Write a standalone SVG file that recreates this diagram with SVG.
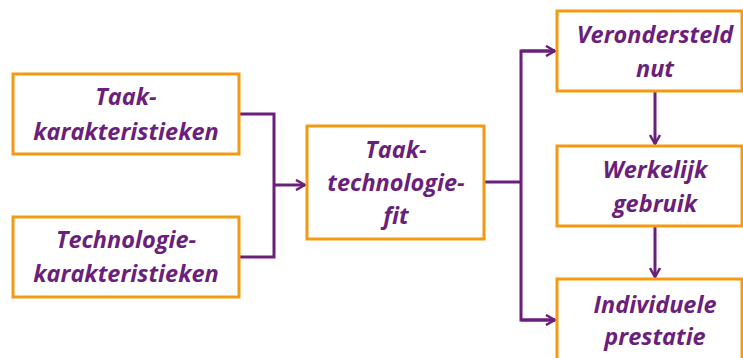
<svg xmlns="http://www.w3.org/2000/svg" width="743" height="358" viewBox="0 0 743 358">
<style>
.box{fill:#fff;stroke:#F39A12;stroke-width:3}
.t{font-family:"Open Sans",sans-serif;font-weight:bold;font-style:italic;font-size:23.5px;fill:#6B1F7C;text-anchor:middle}
.c{fill:none;stroke:#6B1F7C;stroke-width:3}
</style>
<defs>
<marker id="a" viewBox="0 0 12 12" refX="11" refY="6" markerWidth="12" markerHeight="12" markerUnits="userSpaceOnUse" orient="auto">
<path d="M2,1 L11,6 L2,11" fill="none" stroke="#6B1F7C" stroke-width="2.5"/>
</marker>
</defs>
<rect width="743" height="358" fill="#fff"/>
<g id="connectors">
<path class="c" d="M239,114 H274 V257 H239"/>
<path class="c" d="M274,185 H305" marker-end="url(#a)"/>
<path class="c" d="M484,182 H521"/>
<path class="c" d="M555,51 H521 V320 H555"/>
<path class="c" d="M521,51 H555" marker-end="url(#a)"/>
<path class="c" d="M521,320 H555" marker-end="url(#a)"/>
<path class="c" d="M655,91 V144" marker-end="url(#a)"/>
<path class="c" d="M655,226 V277" marker-end="url(#a)"/>
</g>
<g id="n1"><rect class="box" x="13" y="74" width="226" height="80"/><text class="t" x="126" y="105">Taak-</text><text class="t" x="126" y="140">karakteristieken</text></g>
<g id="n2"><rect class="box" x="13" y="217" width="226" height="80"/><text class="t" x="126" y="248">Technologie-</text><text class="t" x="126" y="282">karakteristieken</text></g>
<g id="n3"><rect class="box" x="307" y="126" width="177" height="113"/><text class="t" x="396" y="158">Taak-</text><text class="t" x="396" y="191">technologie-</text><text class="t" x="396" y="224">fit</text></g>
<g id="n4"><rect class="box" x="557" y="11" width="185" height="80"/><text class="t" x="655" y="43">Verondersteld</text><text class="t" x="655" y="77">nut</text></g>
<g id="n5"><rect class="box" x="557" y="146" width="185" height="80"/><text class="t" x="655" y="178">Werkelijk</text><text class="t" x="655" y="212">gebruik</text></g>
<g id="n6"><rect class="box" x="557" y="279" width="185" height="90"/><text class="t" x="655" y="313">Individuele</text><text class="t" x="655" y="345">prestatie</text></g>
</svg>
